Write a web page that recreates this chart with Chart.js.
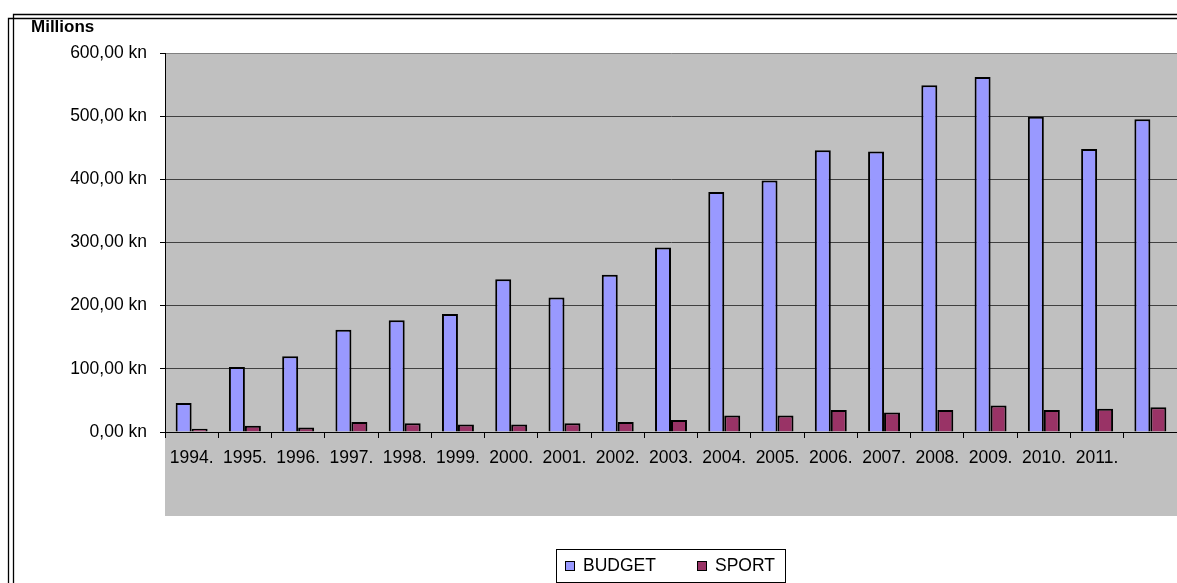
<!DOCTYPE html>
<html>
<head>
<meta charset="utf-8">
<script src="https://cdn.jsdelivr.net/npm/chart.js@4"></script>
<style>
  html, body { margin: 0; padding: 0; background: #fff; }
  #wrap { width: 1177px; height: 583px; position: relative; }
</style>
</head>
<body>
<div id="wrap"><canvas id="budgetChart"></canvas></div>
<script>
const years = ['1994.', '1995.', '1996.', '1997.', '1998.', '1999.', '2000.', '2001.', '2002.',
    '2003.', '2004.', '2005.', '2006.', '2007.', '2008.', '2009.', '2010.', '2011.', ''];
const budget = [46, 103, 120, 162, 177, 187, 242, 213, 249, 292, 380, 398, 446, 444, 549, 562, 499, 448, 495];
const sport = [5, 10, 7, 16, 14, 12, 12, 14, 16, 19, 26, 26, 35, 31, 35, 42, 35, 37, 39];
const yTicks = [0, 100, 200, 300, 400, 500, 600];

const FONT = 'Liberation Sans, Arial, sans-serif';
Chart.defaults.color = '#000';
Chart.defaults.font.family = FONT;

// gray plot area that also runs under the year labels
const plotBack = {
    id: 'plotBack',
    beforeDraw(chart) {
        const { ctx, chartArea } = chart;
        ctx.save();
        ctx.fillStyle = '#c0c0c0';
        ctx.fillRect(chartArea.left, chartArea.top, chartArea.right - chartArea.left,
            chart.scales.x.bottom - chartArea.top);
        ctx.restore();
    }
};

// frame, title and the boxed legend
const extras = {
    id: 'extras',
    afterDraw(chart) {
        const ctx = chart.ctx;
        const W = chart.width, H = chart.height;
        ctx.save();
        ctx.strokeStyle = '#000';
        ctx.lineWidth = 1.3;
        ctx.beginPath();
        ctx.moveTo(13.5, H); ctx.lineTo(13.5, 14.5); ctx.lineTo(W, 14.5);
        ctx.moveTo(8.5, H); ctx.lineTo(8.5, 18.5); ctx.lineTo(W, 18.5);
        ctx.stroke();

        ctx.fillStyle = '#000';
        ctx.font = 'bold 17px ' + FONT;
        ctx.textBaseline = 'alphabetic';
        ctx.fillText('Millions', 31, 32);

        // legend
        ctx.lineWidth = 1;
        ctx.strokeRect(556.5, 549.5, 229, 33);
        const items = [{ x: 565, tx: 583 }, { x: 697, tx: 715 }];
        ctx.font = '17.5px ' + FONT;
        ctx.textBaseline = 'middle';
        chart.data.datasets.forEach((ds, i) => {
            const it = items[i];
            ctx.fillStyle = ds.backgroundColor;
            ctx.fillRect(it.x, 561, 10, 10);
            ctx.strokeRect(it.x + 0.5, 561.5, 9, 9);
            ctx.fillStyle = '#000';
            ctx.fillText(ds.label, it.tx, 566.5);
        });
        ctx.restore();
    }
};

const data = {
    labels: years,
    datasets: [
        {
            label: 'BUDGET',
            data: budget,
            backgroundColor: '#9999ff',
            borderColor: '#000',
            borderWidth: 2,
            categoryPercentage: 0.6,
            barPercentage: 1.0,
        },
        {
            label: 'SPORT',
            data: sport,
            backgroundColor: '#993366',
            borderColor: '#000',
            borderWidth: 2,
            categoryPercentage: 0.6,
            barPercentage: 1.0,
        },
    ],
};

const options = {
    responsive: true,
    maintainAspectRatio: false,
    animation: false,
    layout: { padding: { top: 53, left: 0, right: 0, bottom: 67 } },
    plugins: { legend: { display: false }, tooltip: { enabled: false } },
    scales: {
        x: {
            grid: { drawOnChartArea: false, drawTicks: true, tickLength: 6, color: '#000', offset: true },
            border: { color: '#000', width: 1 },
            ticks: { autoSkip: false, maxRotation: 0, padding: 10, font: { size: 17.5 } },
            afterFit(scale) { scale.height = 84; },
        },
        y: {
            min: 0,
            max: 600,
            afterBuildTicks(scale) { scale.ticks = yTicks.map(v => ({ value: v })); },
            grid: {
                color: (c) => (c.tick && c.tick.value === 600 ? '#808080' : '#404040'),
                tickColor: '#000',
                tickLength: 5,
            },
            border: { color: '#000', width: 1 },
            ticks: {
                padding: 13,
                font: { size: 17.5 },
                callback: (v) => v.toFixed(2).replace('.', ',') + ' kn',
            },
            afterFit(scale) { scale.width = 165; },
        },
    },
};

new Chart('budgetChart', { type: 'bar', data, options, plugins: [plotBack, extras] });
</script>
</body>
</html>
